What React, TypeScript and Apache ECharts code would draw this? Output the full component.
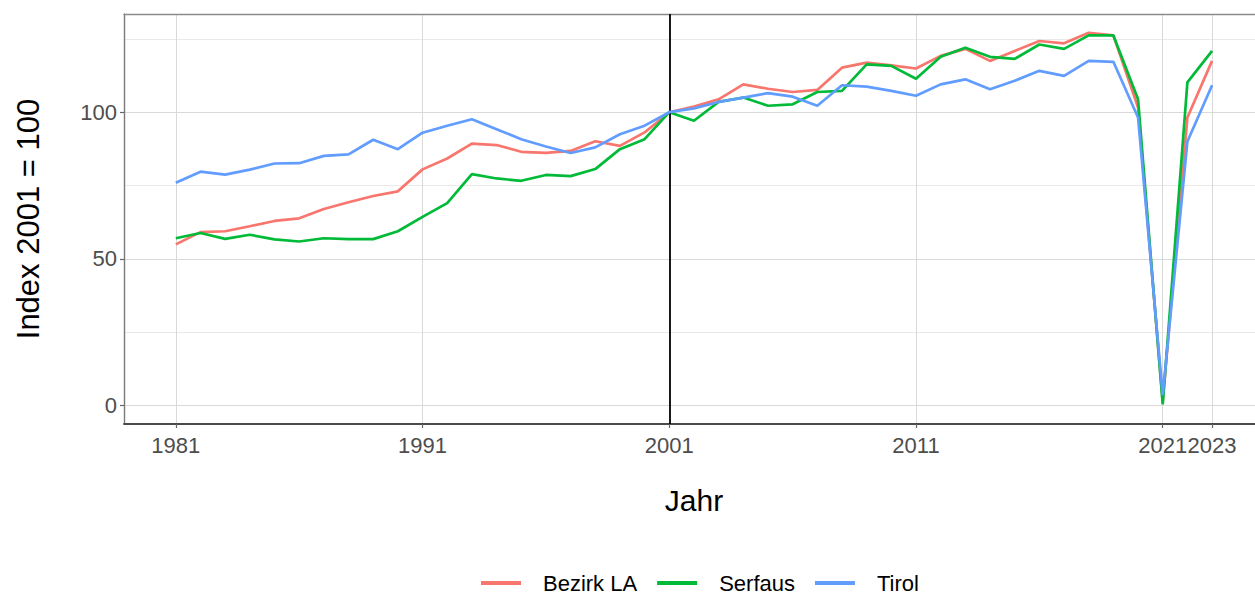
import React, { useEffect, useRef } from "react";
import * as echarts from "echarts";

const years: number[] = [
  1981, 1982, 1983, 1984, 1985, 1986, 1987, 1988, 1989, 1990,
  1991, 1992, 1993, 1994, 1995, 1996, 1997, 1998, 1999, 2000,
  2001, 2002, 2003, 2004, 2005, 2006, 2007, 2008, 2009, 2010,
  2011, 2012, 2013, 2014, 2015, 2016, 2017, 2018, 2019, 2020,
  2021, 2022, 2023,
];

const bezirkLA: number[] = [
  54.9, 59.1, 59.4, 61.1, 62.9, 63.8, 67.0, 69.3, 71.4, 73.0,
  80.5, 84.2, 89.3, 88.8, 86.5, 86.1, 86.8, 90.1, 88.5, 93.1,
  100, 101.9, 104.4, 109.5, 108.0, 106.9, 107.6, 115.2, 116.9, 116.0,
  114.9, 119.2, 121.6, 117.5, 120.9, 124.3, 123.5, 127.1, 126.2, 101.6,
  1.3, 98.2, 117.5,
];

const serfaus: number[] = [
  57.0, 58.8, 56.8, 58.2, 56.6, 55.9, 57.0, 56.7, 56.7, 59.4,
  64.3, 69.0, 78.9, 77.4, 76.6, 78.6, 78.2, 80.6, 87.4, 90.8,
  100, 97.1, 103.5, 105.0, 102.2, 102.7, 106.9, 107.3, 116.3, 115.8,
  111.4, 118.9, 122.0, 118.9, 118.2, 123.1, 121.6, 126.2, 126.2, 104.4,
  0.3, 110.2, 120.9,
];

const tirol: number[] = [
  75.9, 79.7, 78.7, 80.4, 82.5, 82.6, 85.1, 85.6, 90.6, 87.4,
  93.0, 95.4, 97.6, 94.2, 90.8, 88.3, 86.1, 88.0, 92.5, 95.4,
  100, 101.3, 103.5, 105.0, 106.5, 105.3, 102.2, 109.2, 108.7, 107.3,
  105.6, 109.5, 111.2, 107.8, 110.7, 114.1, 112.4, 117.5, 117.2, 98.2,
  3.5, 90.0, 109.2,
];

const seriesNames: string[] = ["Bezirk LA", "Serfaus", "Tirol"];
const seriesColors: string[] = ["#F8766D", "#00BA38", "#619CFF"];
const xTicks: number[] = [1981, 1991, 2001, 2011, 2021, 2023];
const yMajorTicks: number[] = [0, 50, 100];
const yMinorTicks: number[] = [25, 75, 125];
const referenceYear = 2001;

const FONT = "'Liberation Sans', Arial, sans-serif";

export default function App() {
  const ref = useRef<HTMLDivElement>(null);

  useEffect(() => {
    document.body.style.margin = "0";
    if (!ref.current) return;
    const chart = echarts.init(ref.current, undefined, { renderer: "svg" });
    const allSeries = [bezirkLA, serfaus, tirol];

    const yMin = -6.36;
    const yMax = 133.5;
    const xMin = 1978.9;
    const xMax = 2024.74;

    chart.setOption({
      animation: false,
      backgroundColor: "#ffffff",
      textStyle: { fontFamily: FONT },
      grid: {
        left: 124,
        top: 14,
        right: 0,
        bottom: 173,
        show: false,
      },
      legend: {
        left: 476,
        top: 567,
        icon: "rect",
        itemWidth: 40,
        itemHeight: 4,
        itemGap: 20,
        data: seriesNames,
        textStyle: {
          fontSize: 22,
          lineHeight: 20,
          color: "#000000",
          fontFamily: FONT,
          padding: [0, 0, 0, 17],
        },
      },
      xAxis: [
        {
          type: "value",
          min: xMin,
          max: xMax,
          position: "bottom",
          name: "Jahr",
          nameLocation: "middle",
          nameGap: 61,
          nameTextStyle: {
            fontSize: 30,
            color: "#000000",
            fontFamily: FONT,
            padding: [0, 0, 0, 9],
          },
          axisLine: { show: true, onZero: false, lineStyle: { color: "#4a4a4a", width: 1.8 } },
          axisTick: {
            show: true,
            customValues: xTicks,
            length: 4,
            lineStyle: { color: "#666666", width: 1.2 },
          },
          axisLabel: {
            customValues: xTicks,
            fontSize: 22,
            color: "#4D4D4D",
            margin: 10,
            hideOverlap: false,
            fontFamily: FONT,
            formatter: (v: number) => String(v),
          },
          splitLine: { show: true, lineStyle: { color: "#D9D9D9", width: 1 } },
        },
        {
          type: "value",
          min: xMin,
          max: xMax,
          position: "top",
          axisLine: { show: true, onZero: false, lineStyle: { color: "#8a8a8a", width: 1.4 } },
          axisTick: { show: false },
          axisLabel: { show: false },
          splitLine: { show: false },
        },
      ],
      yAxis: [
        {
          type: "value",
          min: yMin,
          max: yMax,
          name: "Index 2001 = 100",
          nameLocation: "middle",
          nameGap: 80,
          nameTextStyle: { fontSize: 31, color: "#000000", fontFamily: FONT },
          axisLine: { show: true, onZero: false, lineStyle: { color: "#7a7a7a", width: 1.4 } },
          axisTick: {
            show: true,
            customValues: yMajorTicks,
            length: 4,
            lineStyle: { color: "#666666", width: 1.2 },
          },
          axisLabel: {
            customValues: yMajorTicks,
            fontSize: 22,
            color: "#4D4D4D",
            margin: 7,
            fontFamily: FONT,
          },
          splitLine: { show: true, lineStyle: { color: "#D9D9D9", width: 1 } },
        },
        {
          type: "value",
          min: yMin,
          max: yMax,
          position: "left",
          axisLine: { show: false },
          axisTick: { show: false, customValues: yMinorTicks },
          axisLabel: { show: false, customValues: yMinorTicks },
          splitLine: { show: true, lineStyle: { color: "#E3E3E3", width: 0.8 } },
        },
      ],
      series: seriesNames.map((name, si) => ({
        name,
        type: "line",
        xAxisIndex: 0,
        yAxisIndex: 0,
        showSymbol: false,
        symbol: "none",
        data: years.map((y, i) => [y, allSeries[si][i]]),
        lineStyle: { color: seriesColors[si], width: 2.7 },
        itemStyle: { color: seriesColors[si] },
        z: 3 + si,
        markLine:
          si === 0
            ? {
                silent: true,
                symbol: "none",
                label: { show: false },
                lineStyle: { color: "#000000", width: 1.8, type: "solid" },
                data: [{ xAxis: referenceYear }],
              }
            : undefined,
      })),
    });

    return () => chart.dispose();
  }, []);

  return <div ref={ref} style={{ width: 1255, height: 597 }} />;
}
